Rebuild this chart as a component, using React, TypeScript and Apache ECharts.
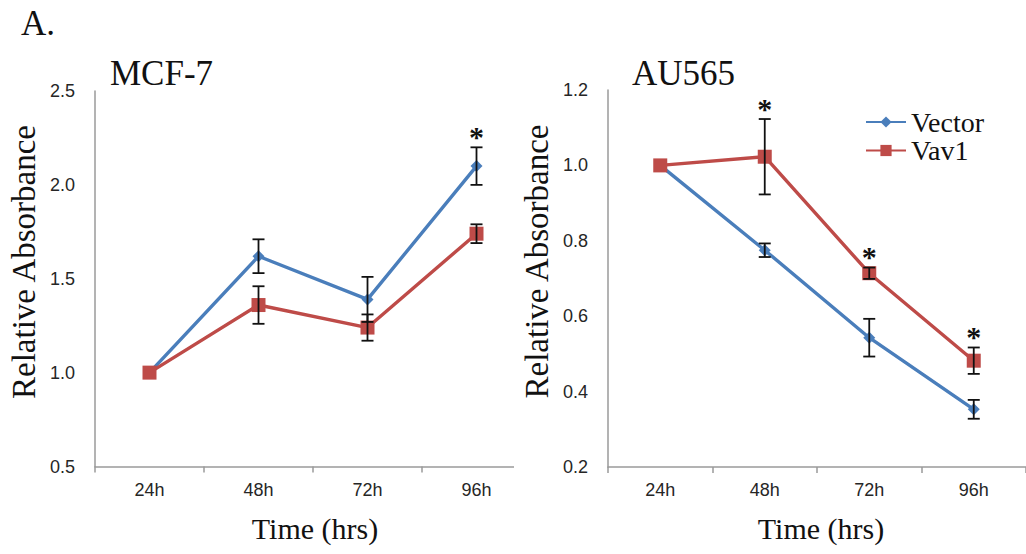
import React, { useEffect, useRef } from "react";
import * as echarts from "echarts";

const categories = ["24h", "48h", "72h", "96h"];

const mcfVector = [1.0, 1.62, 1.39, 2.1];
const mcfVectorErr = [0, 0.09, 0.12, 0.1];
const mcfVav1 = [1.0, 1.36, 1.24, 1.74];
const mcfVav1Err = [0, 0.1, 0.07, 0.05];
// which series carries a significance star at each time point
const mcfStars = [null, null, null, "Vector"];

const auVector = [1.0, 0.775, 0.543, 0.353];
const auVectorErr = [0, 0.018, 0.05, 0.025];
const auVav1 = [1.0, 1.023, 0.714, 0.482];
const auVav1Err = [0, 0.1, 0.015, 0.035];
const auStars = [null, "Vav1", "Vav1", "Vav1"];

const mcfTicks = { min: 0.5, max: 2.5, interval: 0.5 };
const auTicks = { min: 0.2, max: 1.2, interval: 0.2 };

const BLUE = "#4A7EBB";
const RED = "#BE4B48";
const AXIS = "#9a9a9a";
const SERIF = "'Liberation Serif', 'Times New Roman', serif";
const SANS = "'Liberation Sans', Arial, sans-serif";

function errData(means: number[], errs: number[]) {
  return means.map((m, i) => [i, m, errs[i]]);
}

function starData(
  stars: (string | null)[],
  vec: number[],
  vecErr: number[],
  vav: number[],
  vavErr: number[]
) {
  const out: number[][] = [];
  stars.forEach((s, i) => {
    if (s === "Vector") out.push([i, vec[i] + vecErr[i]]);
    if (s === "Vav1") out.push([i, vav[i] + vavErr[i]]);
  });
  return out;
}

const renderErr = (params: any, api: any) => {
  const x = api.value(0);
  const m = api.value(1);
  const e = api.value(2);
  if (!e) return { type: "group", children: [] };
  const top = api.coord([x, m + e]);
  const bot = api.coord([x, m - e]);
  const hw = 6;
  const style = { stroke: "#111", lineWidth: 1.8 };
  return {
    type: "group",
    children: [
      { type: "line", shape: { x1: top[0], y1: top[1], x2: bot[0], y2: bot[1] }, style },
      { type: "line", shape: { x1: top[0] - hw, y1: top[1], x2: top[0] + hw, y2: top[1] }, style },
      { type: "line", shape: { x1: bot[0] - hw, y1: bot[1], x2: bot[0] + hw, y2: bot[1] }, style },
    ],
  };
};

const renderStar = (params: any, api: any) => {
  const p = api.coord([api.value(0), api.value(1)]);
  return {
    type: "text",
    x: p[0],
    y: p[1] - 11,
    style: {
      text: "*",
      font: `bold 30px ${SERIF}`,
      fill: "#111",
      align: "center",
      verticalAlign: "middle",
    },
  };
};

function xAxisFor(gridIndex: number) {
  return {
    type: "category",
    gridIndex,
    data: categories,
    boundaryGap: true,
    axisLine: { show: true, lineStyle: { color: AXIS, width: 1.5 } },
    axisTick: { show: true, length: 6, interval: 0, lineStyle: { color: AXIS, width: 1.5 } },
    axisLabel: { color: "#262626", fontSize: 18, fontFamily: SANS, margin: 14 },
    splitLine: { show: false },
  };
}

function yAxisFor(gridIndex: number, t: { min: number; max: number; interval: number }) {
  return {
    type: "value",
    gridIndex,
    min: t.min,
    max: t.max,
    interval: t.interval,
    axisLine: { show: true, lineStyle: { color: AXIS, width: 1.5 } },
    axisTick: { show: false },
    axisLabel: {
      color: "#262626",
      fontSize: 18,
      fontFamily: SANS,
      margin: 20,
      formatter: (v: number) => v.toFixed(1),
    },
    splitLine: { show: false },
  };
}

function lineSeries(name: string, data: number[], idx: number, color: string, symbol: string, size: number) {
  return {
    name,
    type: "line",
    xAxisIndex: idx,
    yAxisIndex: idx,
    data,
    symbol,
    symbolSize: size,
    itemStyle: { color },
    lineStyle: { color, width: 3.4 },
    z: 2,
  };
}

function legendItem(name: string, top: number) {
  return {
    data: [name],
    orient: "vertical",
    left: 865,
    top,
    itemWidth: 40,
    itemHeight: 14,
    padding: 0,
    selectedMode: false,
    textStyle: { fontSize: 28, lineHeight: 28, fontFamily: SERIF, color: "#111" },
  };
}

export default function App() {
  const ref = useRef<HTMLDivElement>(null);
  useEffect(() => {
    if (!ref.current) return;
    const chart = echarts.init(ref.current, undefined, { renderer: "svg" });
    chart.setOption({
      animation: false,
      backgroundColor: "#fff",
      grid: [
        { left: 95, top: 91, width: 436, height: 375.5 },
        { left: 608, top: 90, width: 436, height: 377 },
      ],
      xAxis: [xAxisFor(0), xAxisFor(1)],
      yAxis: [yAxisFor(0, mcfTicks), yAxisFor(1, auTicks)],
      legend: [legendItem("Vector", 108), legendItem("Vav1", 136.5)],
      series: [
        lineSeries("Vector", mcfVector, 0, BLUE, "diamond", 12),
        lineSeries("Vav1", mcfVav1, 0, RED, "rect", 14),
        lineSeries("Vector", auVector, 1, BLUE, "diamond", 12),
        lineSeries("Vav1", auVav1, 1, RED, "rect", 14),
        {
          type: "custom",
          xAxisIndex: 0,
          yAxisIndex: 0,
          renderItem: renderErr,
          data: [...errData(mcfVector, mcfVectorErr), ...errData(mcfVav1, mcfVav1Err)],
          encode: { x: 0, y: 1 },
          z: 3,
        },
        {
          type: "custom",
          xAxisIndex: 1,
          yAxisIndex: 1,
          renderItem: renderErr,
          data: [...errData(auVector, auVectorErr), ...errData(auVav1, auVav1Err)],
          encode: { x: 0, y: 1 },
          z: 3,
        },
        {
          type: "custom",
          xAxisIndex: 0,
          yAxisIndex: 0,
          renderItem: renderStar,
          data: starData(mcfStars, mcfVector, mcfVectorErr, mcfVav1, mcfVav1Err),
          encode: { x: 0, y: 1 },
          z: 4,
        },
        {
          type: "custom",
          xAxisIndex: 1,
          yAxisIndex: 1,
          renderItem: renderStar,
          data: starData(auStars, auVector, auVectorErr, auVav1, auVav1Err),
          encode: { x: 0, y: 1 },
          z: 4,
        },
      ],
      graphic: [
        // mask: the left panel's x-axis is cut short in the original figure
        { type: "rect", shape: { x: 514, y: 455, width: 24, height: 25 }, style: { fill: "#fff" }, z: 100 },
        { type: "text", x: 21, y: 23.2, style: { text: "A.", font: `35px ${SERIF}`, fill: "#111", align: "left", verticalAlign: "middle" }, z: 100 },
        { type: "text", x: 110, y: 73.2, style: { text: "MCF-7", font: `35px ${SERIF}`, fill: "#111", align: "left", verticalAlign: "middle" }, z: 100 },
        { type: "text", x: 632, y: 73.2, style: { text: "AU565", font: `35px ${SERIF}`, fill: "#111", align: "left", verticalAlign: "middle" }, z: 100 },
        { type: "text", x: 24, y: 262, rotation: Math.PI / 2, style: { text: "Relative Absorbance", font: `33px ${SERIF}`, fill: "#111", align: "center", verticalAlign: "middle" }, z: 100 },
        { type: "text", x: 537, y: 261.5, rotation: Math.PI / 2, style: { text: "Relative Absorbance", font: `33px ${SERIF}`, fill: "#111", align: "center", verticalAlign: "middle" }, z: 100 },
        { type: "text", x: 315, y: 528, style: { text: "Time (hrs)", font: `30px ${SERIF}`, fill: "#111", align: "center", verticalAlign: "middle" }, z: 100 },
        { type: "text", x: 821, y: 528, style: { text: "Time (hrs)", font: `30px ${SERIF}`, fill: "#111", align: "center", verticalAlign: "middle" }, z: 100 },
      ],
    });
    return () => chart.dispose();
  }, []);
  return (
    <div
      ref={ref}
      style={{ position: "absolute", left: 0, top: 0, width: 1026, height: 554 }}
    />
  );
}
